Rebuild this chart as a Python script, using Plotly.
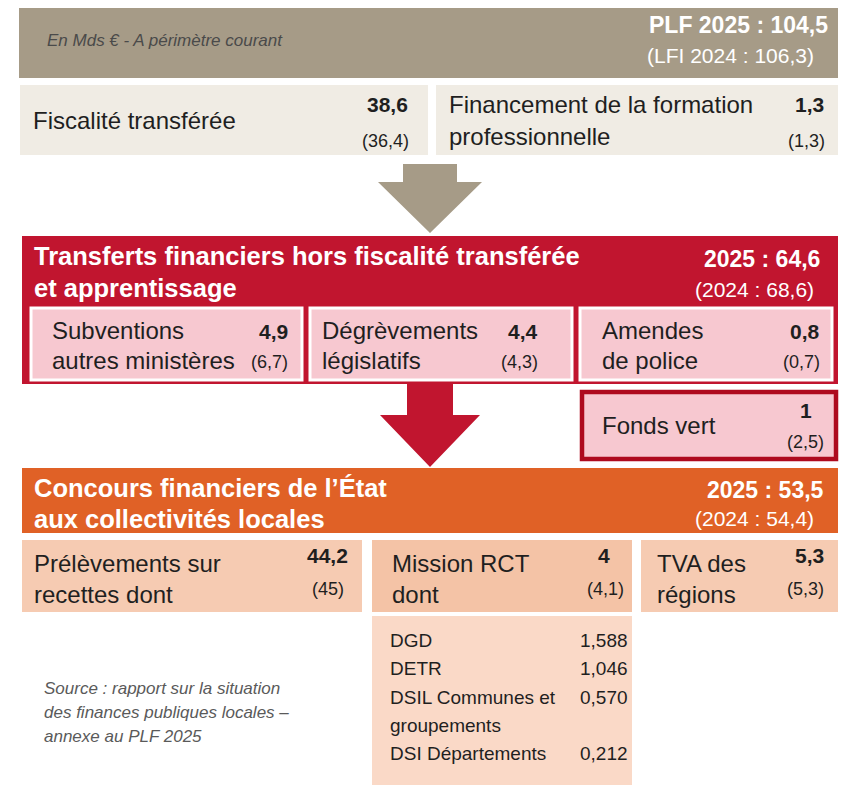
import plotly.graph_objects as go

FONT = "Liberation Sans, Arial, sans-serif"

# --- data ---
total_2025 = "104,5"
total_2024 = "106,3"

top_labels = [["Fiscalité transférée"], ["Financement de la formation", "professionnelle"]]
top_values = ["38,6", "1,3"]
top_prev = ["(36,4)", "(1,3)"]

transfer_title = ["Transferts financiers hors fiscalité transférée", "et apprentissage"]
transfer_2025 = "64,6"
transfer_2024 = "68,6"
transfer_labels = [["Subventions", "autres ministères"], ["Dégrèvements", "législatifs"],
                   ["Amendes", "de police"], ["Fonds vert"]]
transfer_values = ["4,9", "4,4", "0,8", "1"]
transfer_prev = ["(6,7)", "(4,3)", "(0,7)", "(2,5)"]

concours_title = ["Concours financiers de l’État", "aux collectivités locales"]
concours_2025 = "53,5"
concours_2024 = "54,4"
concours_labels = [["Prélèvements sur", "recettes dont"], ["Mission RCT", "dont"], ["TVA des", "régions"]]
concours_values = ["44,2", "4", "5,3"]
concours_prev = ["(45)", "(4,1)", "(5,3)"]

rct_items = [["DGD"], ["DETR"], ["DSIL Communes et", "groupements"], ["DSI Départements"]]
rct_values = ["1,588", "1,046", "0,570", "0,212"]

source_text = ["Source : rapport sur la situation", "des finances publiques locales –", "annexe au PLF 2025"]

# --- colours ---
BROWN = "#A69B87"
BEIGE = "#F0ECE4"
CRIMSON = "#C1152F"
PINK = "#F7C8D0"
DARKRED = "#AE0A1E"
ORANGE = "#E06126"
PEACH = "#F6CBB2"
PEACH_DARK = "#F4C3A6"
PEACH_LIGHT = "#FAD9C7"
INK = "#1f1f1f"

# page body adds 8px around the figure, so shift the axes to keep pixel coordinates
OFF = 8

LABEL = 24
VAL = 21
PREV = 18

fig = go.Figure()
shapes = []
annots = []


def rect(x0, y0, x1, y1, fill, line_color=None, line_width=0):
    shapes.append(dict(type="rect", x0=x0, y0=y0, x1=x1, y1=y1, fillcolor=fill,
                       line=dict(color=line_color or fill, width=line_width), layer="below"))


def text(x, y, s, size, color=INK, anchor="left", bold=False, italic=False):
    if bold:
        s = f"<b>{s}</b>"
    if italic:
        s = f"<i>{s}</i>"
    annots.append(dict(x=x, y=y, text=s, showarrow=False, xanchor=anchor, yanchor="middle",
                       font=dict(family=FONT, size=size, color=color)))


def lines(x, y0, rows, step, size, **kw):
    for i, r in enumerate(rows):
        text(x, y0 + i * step, r, size, **kw)


def arrow(cx, y_top, y_neck, y_tip, shaft_half, head_half, color):
    path = (f"M {cx - shaft_half} {y_top} L {cx + shaft_half} {y_top} L {cx + shaft_half} {y_neck} "
            f"L {cx + head_half} {y_neck} L {cx} {y_tip} L {cx - head_half} {y_neck} "
            f"L {cx - shaft_half} {y_neck} Z")
    shapes.append(dict(type="path", path=path, fillcolor=color, line=dict(color=color, width=0)))


# header
rect(19, 4, 838, 78, BROWN)
text(45, 40, "En Mds € - A périmètre courant", 17, color="#4a4a4a", italic=True)
text(830, 25, f"PLF 2025 : {total_2025}", 23, color="white", anchor="right", bold=True)
text(816, 55, f"(LFI 2024 : {total_2024})", 21, color="white", anchor="right")

# top row boxes
top_boxes = [(20, 428), (436, 838)]
top_label_y = [[120], [104, 136]]
top_val_x = [410, 826]
for (x0, x1), lab, ys, vx, val, prev in zip(top_boxes, top_labels, top_label_y, top_val_x, top_values, top_prev):
    rect(x0, 85, x1, 155, BEIGE)
    for r, y in zip(lab, ys):
        text(x0 + 11, y, r, LABEL)
    text(vx, 104, val, VAL, anchor="right", bold=True)
    text(vx + 1, 141, prev, PREV, anchor="right")

arrow(430, 164, 182, 233, 27, 52, BROWN)

# transfers block
rect(22, 236, 838, 384, CRIMSON)
lines(32, 256, transfer_title, 32, 25.5, color="white", bold=True)
text(822, 259, f"2025 : {transfer_2025}", 23, color="white", anchor="right", bold=True)
text(816, 289, f"(2024 : {transfer_2024})", 21, color="white", anchor="right")

sub_boxes = [(31, 302), (310, 572), (580, 832)]
sub_label_x = [50, 320, 600]
sub_val_x = [290, 540, 822]
for (x0, x1), lx, vx, lab, val, prev in zip(sub_boxes, sub_label_x, sub_val_x,
                                             transfer_labels[:3], transfer_values[:3], transfer_prev[:3]):
    rect(x0, 308, x1, 380, PINK, "white", 3)
    lines(lx, 330, lab, 30, LABEL)
    text(vx, 331, val, VAL, anchor="right", bold=True)
    text(vx, 362, prev, PREV, anchor="right")

arrow(430, 383, 415, 467, 23, 50, CRIMSON)

# Fonds vert
rect(582, 392, 836, 459, PINK, DARKRED, 4.5)
lines(600, 425, transfer_labels[3], 30, LABEL)
text(814, 410, transfer_values[3], VAL, anchor="right", bold=True)
text(826, 442, transfer_prev[3], PREV, anchor="right")

# concours block
rect(22, 468, 838, 533, ORANGE)
lines(32, 488, concours_title, 31, 25.5, color="white", bold=True)
text(826, 490, f"2025 : {concours_2025}", 23, color="white", anchor="right", bold=True)
text(816, 518, f"(2024 : {concours_2024})", 21, color="white", anchor="right")

bottom_boxes = [(22, 362, PEACH), (372, 632, PEACH_DARK), (641, 838, PEACH)]
bottom_label_x = [32, 390, 655]
bottom_val_x = [350, 612, 826]
bottom_prev_x = [346, 626, 826]
for (x0, x1, col), lx, vx, px, lab, val, prev in zip(bottom_boxes, bottom_label_x, bottom_val_x, bottom_prev_x,
                                                     concours_labels, concours_values, concours_prev):
    rect(x0, 540, x1, 612, col)
    lines(lx, 563, lab, 31, LABEL)
    text(vx, 555, val, VAL, anchor="right", bold=True)
    text(px, 589, prev, PREV, anchor="right")

# Mission RCT detail
rect(372, 616, 632, 785, PEACH_LIGHT)
item_y = [640, 668, 697, 753]
for lab, val, y in zip(rct_items, rct_values, item_y):
    lines(388, y, lab, 28, 19)
    text(630, y, val, 19, anchor="right")

lines(42, 688, source_text, 24, 17, color="#5a5a5a", italic=True)

fig.update_layout(
    width=856, height=787,
    margin=dict(l=0, r=0, t=0, b=0),
    paper_bgcolor="white", plot_bgcolor="white",
    xaxis=dict(range=[OFF, 856 + OFF], visible=False, fixedrange=True),
    yaxis=dict(range=[787 + OFF, OFF], visible=False, fixedrange=True),
    shapes=shapes, annotations=annots, showlegend=False,
)

fig.write_html("out.html")
